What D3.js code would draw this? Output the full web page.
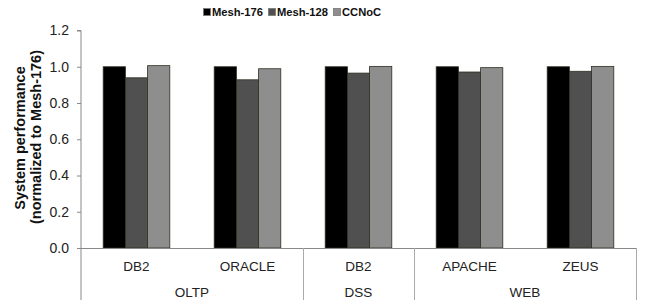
<!DOCTYPE html>
<html><head><meta charset="utf-8">
<script src="https://cdn.jsdelivr.net/npm/d3@7"></script>
<style>body{margin:0;background:#fff}svg{display:block}text{font-family:"Liberation Sans",Arial,sans-serif}</style>
</head><body>
<script>
const categories = ["DB2","ORACLE","DB2","APACHE","ZEUS"];
const groups = [{name:"OLTP",n:2},{name:"DSS",n:1},{name:"WEB",n:2}];
const series = ["Mesh-176","Mesh-128","CCNoC"];
const mesh176 = [1.0,1.0,1.0,1.0,1.0];
const mesh128 = [0.939,0.928,0.965,0.971,0.975];
const ccnoc = [1.006,0.989,1.002,0.995,1.002];
const yTicks = [0,0.2,0.4,0.6,0.8,1.0,1.2];
const colors = ["#000000","#505050","#8e8e8e"];
const values = [mesh176, mesh128, ccnoc];

(function(){
const W=646,H=303;
const svg=d3.select("body").append("svg").attr("width",W).attr("height",H);
const mL=81,mR=636,mT=30.5,mB=248;
const x0=d3.scaleBand().domain(d3.range(categories.length)).range([mL,mR]).padding(0);
const bw=x0.bandwidth();
const x1=d3.scaleBand().domain(series).range([bw*0.2,bw*0.8]).padding(0);
const y=d3.scaleLinear().domain([0,1.2]).range([mB,mT]);

series.forEach((s,si)=>{
  svg.append("g").selectAll("rect").data(values[si]).join("rect")
    .attr("x",(d,i)=>x0(i)+x1(s)).attr("width",x1.bandwidth())
    .attr("y",d=>y(d)).attr("height",d=>y(0)-y(d))
    .attr("fill",colors[si]).attr("stroke","#2e2e22").attr("stroke-width",0.8);
});

const yAxis=d3.axisLeft(y).tickValues(yTicks).tickFormat(d3.format(".1f")).tickSize(4).tickPadding(8);
const ga=svg.append("g").attr("transform",`translate(${mL},0)`).call(yAxis);
ga.select(".domain").attr("stroke","#888").attr("d",`M-4,${mT}H0V300`);
ga.selectAll(".tick line").attr("stroke","#888");
ga.selectAll(".tick text").attr("font-size",14).attr("fill","#222").attr("font-family","Liberation Sans, Arial, sans-serif");

svg.append("line").attr("x1",mL).attr("x2",mR).attr("y1",y(0)+0.5).attr("y2",y(0)+0.5).attr("stroke","#888");

svg.append("g").selectAll("text").data(categories).join("text")
  .attr("x",(d,i)=>x0(i)+bw/2).attr("y",271).attr("text-anchor","middle")
  .attr("font-size",13.5).attr("fill","#222").text(d=>d);

let idx=0;
groups.forEach(g=>{
  const gx0=x0(idx), gx1=x0(idx+g.n-1)+bw;
  svg.append("text").attr("x",(gx0+gx1)/2).attr("y",297).attr("text-anchor","middle")
    .attr("font-size",13.5).attr("fill","#222").text(g.name);
  svg.append("line").attr("x1",Math.round(gx1)+0.5).attr("x2",Math.round(gx1)+0.5).attr("y1",y(0)).attr("y2",300).attr("stroke","#aaa");
  idx+=g.n;
});

svg.append("text").attr("transform","translate(25,138) rotate(-90)").attr("text-anchor","middle")
  .attr("font-size",14.5).attr("font-weight","bold").attr("fill","#111").text("System performance");
svg.append("text").attr("transform","translate(41,137) rotate(-90)").attr("text-anchor","middle")
  .attr("font-size",14.5).attr("font-weight","bold").attr("fill","#111").text("(normalized to Mesh-176)");

const leg=svg.append("g");
let lx=203;
series.forEach((s,i)=>{
  leg.append("rect").attr("x",lx+0.5).attr("y",8.5).attr("width",7).attr("height",7).attr("fill",colors[i]).attr("stroke","#777").attr("stroke-width",0.8);
  const t=leg.append("text").attr("x",lx+9).attr("y",16).attr("font-size",11.2).attr("font-weight","bold").attr("fill","#111").text(s);
  lx+=9+t.node().getComputedTextLength()+5;
});
})();
</script>
</body></html>
